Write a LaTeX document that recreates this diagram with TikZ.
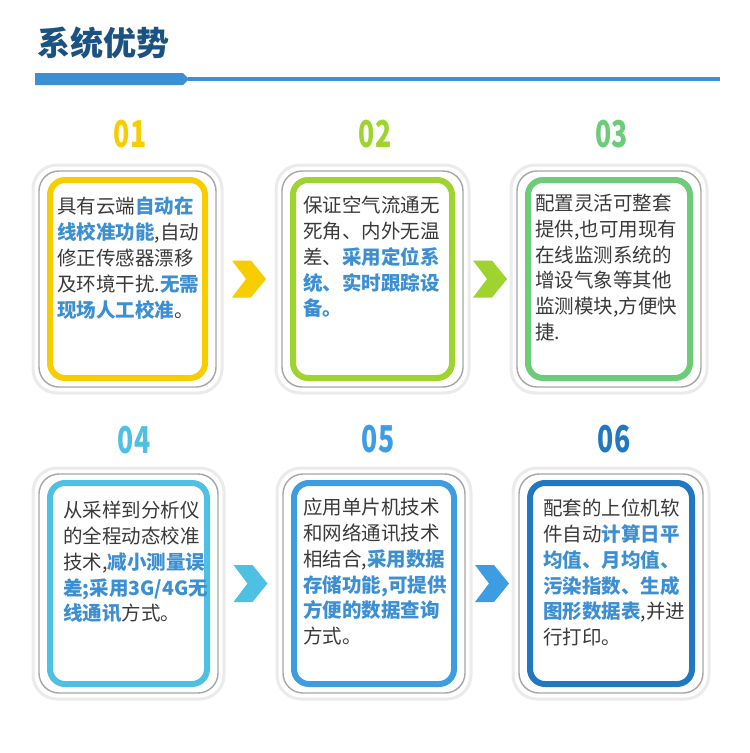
\documentclass[tikz,border=0pt]{standalone}
\usepackage{fontspec}
\setmainfont{Noto Sans CJK SC}
\usepackage{graphicx}
\usepackage{tikz}
\usetikzlibrary{calc, positioning}

\definecolor{titleblue}{RGB}{26, 82, 130}
\definecolor{barblue}{RGB}{58, 144, 210}
\definecolor{textgray}{RGB}{58, 58, 58}
\definecolor{keyblue}{RGB}{60, 143, 210}
\definecolor{yel}{RGB}{247, 205, 0}
\definecolor{lime}{RGB}{158, 211, 48}
\definecolor{grn}{RGB}{109, 204, 120}
\definecolor{cyn}{RGB}{78, 192, 228}
\definecolor{blu}{RGB}{61, 156, 226}
\definecolor{navy}{RGB}{31, 120, 193}

\newcommand{\hilite}[1]{{\bfseries\color{keyblue}#1}}

\tikzset{
  halo/.style={draw=black!8, fill=white, line width=3pt, rounded corners=24pt, inner sep=0pt},
  frame/.style={draw=black!35, fill=white, line width=1.4pt, rounded corners=20pt, inner sep=0pt},
  card/.style={fill=white, line width=6pt, rounded corners=15pt, inner sep=0pt},
  cardtext/.style={anchor=north west, inner sep=0pt, text width=160pt, align=left,
    text=textgray, font=\fontsize{19.5}{25.8}\selectfont},
  num/.style={font=\bfseries\fontsize{37}{37}\selectfont, inner sep=0pt},
}

\begin{document}
\begin{tikzpicture}[x=1pt, y=-1pt]
  \useasboundingbox (0,0) rectangle (750,753);

  % heading
  \node[anchor=west, inner sep=0pt, text=titleblue, font=\bfseries\fontsize{33}{33}\selectfont] (title) at (37,43) {系统优势};
  \fill[barblue] (35,73) -- (183,73) -- (189,79) -- (183,85) -- (35,85) -- cycle;
  \draw[barblue, line width=3.5pt] (188,79) -- (720,79);

  % cards
  \foreach \n/\cx/\cy/\w/\h/\col in {c1/127.5/279/155/198/yel, c2/372.5/279/159/198/lime, c3/609/279/162/198/grn,
      c4/128.5/583.5/157/201/cyn, c5/374/583.5/160/201/blu, c6/611/583.5/162/201/navy} {
    \node[halo, minimum width={\w pt+34pt}, minimum height={\h pt+30pt}] at (\cx,\cy) {};
    \node[frame, minimum width={\w pt+22pt}, minimum height={\h pt+18pt}] at (\cx,\cy) {};
    \node[card, draw=\col, minimum width=\w pt, minimum height=\h pt] (\n) at (\cx,\cy) {};
  }

  % numbers
  \node[num, text=yel]  (n1) at (130,134.5) {\scalebox{0.72}[1]{01}};
  \node[num, text=lime] (n2) at (375,134.5) {\scalebox{0.72}[1]{02}};
  \node[num, text=grn]  (n3) at (611.5,134.5) {\scalebox{0.72}[1]{03}};
  \node[num, text=cyn]  (n4) at (134,440) {\scalebox{0.72}[1]{04}};
  \node[num, text=blu]  (n5) at (378,439) {\scalebox{0.72}[1]{05}};
  \node[num, text=navy] (n6) at (614,439) {\scalebox{0.72}[1]{06}};

  % chevrons between cards
  \foreach \a/\b/\col in {c1/c2/yel, c2/c3/lime, c4/c5/cyn, c5/c6/blu}
    \fill[\col] ($(\a.east)!0.5!(\b.west)$) ++(-17,-18.5) -- ++(19,0) -- ++(15,18.5)
      -- ++(-15,18.5) -- ++(-19,0) -- ++(14,-18.5) -- cycle;

  % texts
  \node[cardtext] (t1) at (57,197) {具有云端\hilite{自动在}\\\hilite{线校准功能},自动\\修正传感器漂移\\及环境干扰.\hilite{无需}\\\hilite{现场人工校准}。};
  \node[cardtext] (t2) at (303,196) {保证空气流通无\\死角、内外无温\\差、\hilite{采用定位系}\\\hilite{统、实时跟踪设}\\\hilite{备。}};
  \node[cardtext] (t3) at (535,194) {配置灵活可整套\\提供,也可用现有\\在线监测系统的\\增设气象等其他\\监测模块,方便快\\捷.};
  \node[cardtext] (t4) at (63,501) {从采样到分析仪\\的全程动态校准\\技术,\hilite{减小测量误}\\\hilite{差;采用3G/4G无}\\\hilite{线通讯}方式。};
  \node[cardtext] (t5) at (303,498) {应用单片机技术\\和网络通讯技术\\相结合,\hilite{采用数据}\\\hilite{存储功能,可提供}\\\hilite{方便的数据查询}\\方式。};
  \node[cardtext] (t6) at (543,499) {配套的上位机软\\件自动\hilite{计算日平}\\\hilite{均值、月均值、}\\\hilite{污染指数、生成}\\\hilite{图形数据表},并进\\行打印。};
\end{tikzpicture}
\end{document}
